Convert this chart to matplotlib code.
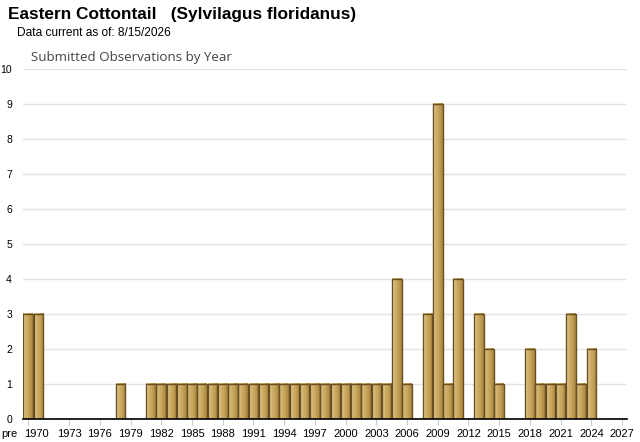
import matplotlib
matplotlib.use("Agg")
import matplotlib.pyplot as plt
from matplotlib.colors import LinearSegmentedColormap
from matplotlib.transforms import ScaledTranslation
import numpy as np

# categories: "pre" plus each year 1970..2027
years = ["pre"] + [str(y) for y in range(1970, 2028)]
counts = [
    3, 3,                      # pre, 1970
    0, 0, 0, 0, 0, 0, 0,       # 1971-1977
    1, 0, 0,                   # 1978-1980
    1, 1, 1, 1, 1, 1, 1, 1,    # 1981-1988
    1, 1, 1, 1, 1, 1, 1, 1,    # 1989-1996
    1, 1, 1, 1, 1, 1, 1, 1,    # 1997-2004
    4, 1, 0, 3, 9, 1, 4, 0,    # 2005-2012
    3, 2, 1, 0, 0, 2, 1, 1,    # 2013-2020
    1, 3, 1, 2, 0, 0, 0,       # 2021-2027
]
tick_labels = ["pre"] + [str(y) for y in range(1970, 2028, 3)]

plt.rcParams["font.family"] = ["Liberation Sans", "DejaVu Sans"]

fig = plt.figure(figsize=(6.4, 4.42), dpi=100)
ax = fig.add_axes([0.036, 0.052, 0.944, 0.792])

xs = np.arange(len(years))
bar_w = 0.94
grad = LinearSegmentedColormap.from_list(
    "gold",
    [(0.0, "#9c7a3c"), (0.12, "#e6d6a6"), (0.25, "#d2b36c"),
     (0.6, "#c6a35a"), (1.0, "#a8843f")],
)
gradient = np.linspace(0, 1, 64).reshape(1, -1)

for x, c in zip(xs, counts):
    if c <= 0:
        continue
    ax.imshow(gradient, cmap=grad, aspect="auto", zorder=2,
              extent=(x - bar_w / 2, x + bar_w / 2, 0, c))
ax.bar(xs, counts, width=bar_w, facecolor="none", edgecolor="#6a5020",
       linewidth=1.0, zorder=3)

ax.set_xlim(-0.5, len(years) - 0.5)
ax.set_ylim(0, 10)
ax.set_yticks(range(0, 11))
ax.tick_params(axis="y", length=0, labelsize=7.5, pad=8)
ax.grid(axis="y", color="#e3e3e3", linewidth=1.0, zorder=0)

tick_pos = [0] + [years.index(t) for t in tick_labels[1:]]
ax.set_xticks(tick_pos)
ax.set_xticklabels(tick_labels, fontsize=8)
ax.tick_params(axis="x", length=4, color="#cccccc", pad=3)
# "pre" and "1970" labels are nudged left like the original
ticks = ax.xaxis.get_major_ticks()
ticks[1].tick1line.set_visible(False)
ticks[0].label1.set_transform(ticks[0].label1.get_transform()
                              + ScaledTranslation(-0.19, 0, fig.dpi_scale_trans))
ticks[1].label1.set_transform(ticks[1].label1.get_transform()
                              + ScaledTranslation(-0.02, 0, fig.dpi_scale_trans))

for side in ("top", "right", "left"):
    ax.spines[side].set_visible(False)
ax.spines["bottom"].set_color("black")
ax.spines["bottom"].set_linewidth(1.2)
ax.spines["bottom"].set_zorder(4)

fig.text(8 / 640, 1 - 7 / 442, "Eastern Cottontail   (Sylvilagus floridanus)",
         fontsize=12.4, fontweight="bold", va="top", ha="left")
fig.text(17 / 640, 1 - 27 / 442, "Data current as of: 8/15/2026",
         fontsize=8.6, va="top", ha="left")
fig.text(31 / 640, 1 - 51 / 442, "Submitted Observations by Year",
         fontsize=9.6, color="#444444", va="top", ha="left",
         family=["Open Sans", "DejaVu Sans"])

fig.savefig("out.png", dpi=100)
